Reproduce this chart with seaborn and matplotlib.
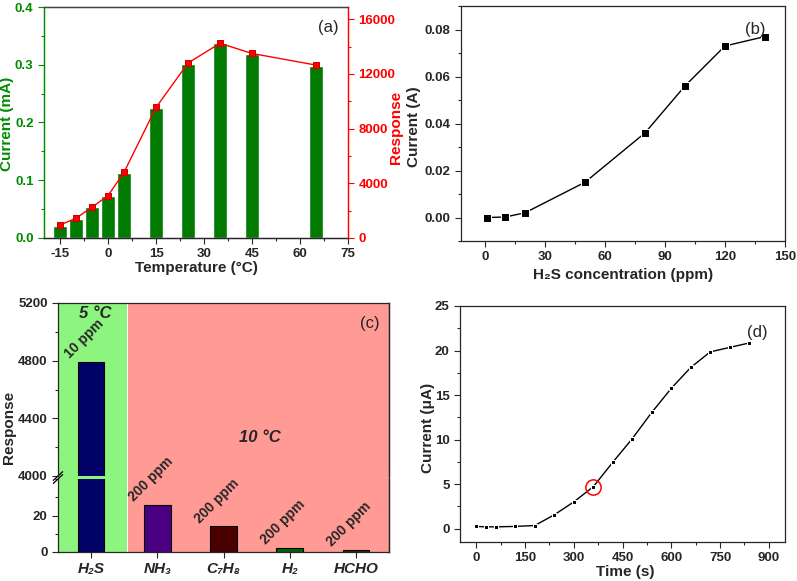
import numpy as np
import pandas as pd
import matplotlib
matplotlib.use('Agg')
import matplotlib.pyplot as plt
from matplotlib.ticker import MultipleLocator, FormatStrFormatter
from matplotlib.transforms import Bbox, TransformedBbox
import seaborn as sns

# ---- data ----
# (a) temperature dependence
temps = [-15, -10, -5, 0, 5, 15, 25, 35, 45, 65]
current_ma = [0.021, 0.033, 0.053, 0.073, 0.113, 0.225, 0.302, 0.337, 0.319, 0.298]
response_a = [950, 1450, 2250, 3100, 4800, 9550, 12800, 14250, 13500, 12650]

# (b) H2S concentration
conc_ppm = [1, 10, 20, 50, 80, 100, 120, 140]
current_a = [0.0, 0.0002, 0.002, 0.015, 0.036, 0.056, 0.073, 0.077]

# (c) selectivity
gases = ['H\u2082S', 'NH\u2083', 'C\u2087H\u2088', 'H\u2082', 'HCHO']
gas_resp = [4790, 26, 14, 2, 1]
gas_conc = ['10 ppm', '200 ppm', '200 ppm', '200 ppm', '200 ppm']
gas_colors = ['#000066', '#4B0082', '#4A0000', '#006400', '#333300']

# (d) response with time
time_s = [0, 30, 60, 120, 180, 240, 300, 360, 420, 480, 540, 600, 660, 720, 780, 840]
current_ua = [0.25, 0.2, 0.2, 0.25, 0.35, 1.55, 3.0, 4.7, 7.45, 10.1, 13.05, 15.75, 18.1, 19.85, 20.35, 20.85]

sns.set_style('ticks')
plt.rcParams['font.family'] = ['Liberation Sans', 'DejaVu Sans']
plt.rcParams['font.weight'] = 'bold'
plt.rcParams['axes.unicode_minus'] = False
plt.rcParams['xtick.direction'] = 'out'
plt.rcParams['ytick.direction'] = 'out'

W, H = 797, 581
fig = plt.figure(figsize=(W / 100, H / 100), dpi=100)

TICK = 9.5
LAB = 11


def box(l, t, r, b):
    return [l / W, 1 - b / H, (r - l) / W, (b - t) / H]


def style_ticks(ax, size=TICK):
    ax.tick_params(which='major', length=4, width=0.8, labelsize=size)
    ax.tick_params(which='minor', length=2, width=0.8)
    for lab in ax.get_xticklabels() + ax.get_yticklabels():
        lab.set_fontweight('bold')
    for s in ax.spines.values():
        s.set_linewidth(0.9)


GREEN = '#008C00'
RED = '#FF0000'

# ---------------- (a) ----------------
ax_a = fig.add_axes(box(44, 7, 348, 238))
sns.barplot(x=temps, y=current_ma, native_scale=True, width=0.85,
            color='#007A00', saturation=1, ax=ax_a)
ax_a.set_xlim(-20, 75)
ax_a.set_ylim(0, 0.4)
ax_a.xaxis.set_major_locator(MultipleLocator(15))
ax_a.xaxis.set_minor_locator(MultipleLocator(7.5))
ax_a.yaxis.set_major_locator(MultipleLocator(0.1))
ax_a.yaxis.set_minor_locator(MultipleLocator(0.05))
ax_a.yaxis.set_major_formatter(FormatStrFormatter('%.1f'))
ax_a.set_xlabel('')
ax_a.set_ylabel('')
ax_a2 = ax_a.twinx()
sns.lineplot(x=temps, y=response_a, color=RED, marker='s', markersize=5,
             markeredgecolor='#CC0000', linewidth=1, ax=ax_a2)
ax_a2.set_ylim(0, 16900)
ax_a2.yaxis.set_major_locator(MultipleLocator(4000))
ax_a2.yaxis.set_minor_locator(MultipleLocator(2000))
ax_a2.set_ylabel('')
style_ticks(ax_a)
style_ticks(ax_a2)
ax_a.tick_params(axis='y', which='both', colors=GREEN)
ax_a2.tick_params(axis='y', which='both', colors=RED)
ax_a2.spines['left'].set_color(GREEN)
ax_a2.spines['right'].set_color(RED)
ax_a2.spines['top'].set_color('#444444')
ax_a.spines['left'].set_color(GREEN)
ax_a.spines['right'].set_color(RED)
ax_a.text(0.934, 0.913, '(a)', transform=ax_a.transAxes, fontsize=12,
          fontweight='normal', ha='center', va='center')
fig.text(7 / W, 1 - 124 / H, 'Current (mA)', rotation=90, color=GREEN,
         fontsize=LAB, fontweight='bold', ha='center', va='center')
resp_lab = fig.text(396 / W, 1 - 127 / H, 'Response', rotation=90, color=RED,
                    fontsize=LAB, fontweight='bold', ha='center', va='center')
# the right-hand label of (a) is partly hidden under panel (b)
resp_lab.set_clip_box(TransformedBbox(Bbox([[0, 0], [403 / W, 1]]), fig.transFigure))
resp_lab.set_clip_on(True)
fig.text(196 / W, 1 - 268 / H, 'Temperature (\u00b0C)', fontsize=LAB,
         fontweight='bold', ha='center', va='center')

# ---------------- (b) ----------------
ax_b = fig.add_axes(box(461, 6, 785, 241))
sns.lineplot(x=conc_ppm, y=current_a, color='black', marker='s', markersize=5.5,
             linewidth=1, ax=ax_b)
ax_b.set_xlim(-12, 150)
ax_b.set_ylim(-0.01, 0.09)
ax_b.xaxis.set_major_locator(MultipleLocator(30))
ax_b.xaxis.set_minor_locator(MultipleLocator(15))
ax_b.yaxis.set_major_locator(MultipleLocator(0.02))
ax_b.yaxis.set_minor_locator(MultipleLocator(0.01))
ax_b.yaxis.set_major_formatter(FormatStrFormatter('%.2f'))
ax_b.set_xlabel('')
ax_b.set_ylabel('')
style_ticks(ax_b)
ax_b.text(0.907, 0.898, '(b)', transform=ax_b.transAxes, fontsize=12,
          fontweight='normal', ha='center', va='center')
fig.text(414 / W, 1 - 127 / H, 'Current (A)', rotation=90,
         fontsize=LAB, fontweight='bold', ha='center', va='center')
fig.text(623 / W, 1 - 275 / H, 'H\u2082S concentration (ppm)', fontsize=LAB,
         fontweight='bold', ha='center', va='center')

# ---------------- (c) ----------------
gas_df = pd.DataFrame({'gas': gases, 'resp': gas_resp})
ax_bg = fig.add_axes(box(58, 303, 389, 552))
ax_bg.set_xlim(-0.5, 4.5)
ax_bg.axvspan(-0.5, 0.535, color='#8DF57F', lw=0)
ax_bg.axvspan(0.56, 4.5, color='#FF9A94', lw=0)
ax_bg.set_xticks([])
ax_bg.set_yticks([])
for side in ('left', 'top', 'bottom'):
    ax_bg.spines[side].set_visible(False)
ax_bg.spines['right'].set_linewidth(0.9)

ax_cu = fig.add_axes(box(58, 303, 389, 476))
ax_cl = fig.add_axes(box(58, 479, 389, 552))
for ax in (ax_cu, ax_cl):
    ax.set_facecolor('none')
    sns.barplot(data=gas_df, x='gas', y='resp', hue='gas', palette=gas_colors,
                width=0.4, saturation=1, edgecolor='black', linewidth=0.8,
                legend=False, ax=ax)
    ax.set_xlim(-0.5, 4.5)
    ax.set_xlabel('')
    ax.set_ylabel('')
ax_cu.set_ylim(4000, 5200)
ax_cu.yaxis.set_major_locator(MultipleLocator(400))
ax_cu.yaxis.set_minor_locator(MultipleLocator(200))
ax_cu.spines['bottom'].set_visible(False)
ax_cu.tick_params(axis='x', which='both', bottom=False, labelbottom=False)
ax_cl.set_ylim(0, 40)
ax_cl.yaxis.set_minor_locator(MultipleLocator(10))
ax_cl.set_yticks([0, 20])
ax_cl.spines['top'].set_visible(False)
style_ticks(ax_cu)
style_ticks(ax_cl)
ax_cl.tick_params(axis='x', labelsize=11)
for lab in ax_cl.get_xticklabels():
    lab.set_fontstyle('italic')
    lab.set_fontweight('bold')

# break marks on the left spine
ax_cu.plot([-0.014, 0.014], [-0.025, 0.025], transform=ax_cu.transAxes,
           color='black', lw=0.9, clip_on=False)
ax_cl.plot([-0.014, 0.014], [0.94, 1.06], transform=ax_cl.transAxes,
           color='black', lw=0.9, clip_on=False)

for i, (v, c) in enumerate(zip(gas_resp, gas_conc)):
    target = ax_cu if v > 40 else ax_cl
    target.text(i - 0.1, v + (10 if v > 40 else 0.5), c, rotation=45,
                ha='center', va='bottom', fontsize=10, fontweight='bold')
ax_cu.text(0.06, 5125, '5 \u00b0C', ha='center', va='center', fontsize=12,
           fontweight='bold', fontstyle='italic')
ax_cu.text(2.55, 4270, '10 \u00b0C', ha='center', va='center', fontsize=12,
           fontweight='bold', fontstyle='italic')
ax_cu.text(0.943, 0.884, '(c)', transform=ax_cu.transAxes, fontsize=12,
           fontweight='normal', ha='center', va='center')
fig.text(9 / W, 1 - 427 / H, 'Response', rotation=90,
         fontsize=LAB, fontweight='bold', ha='center', va='center')

# ---------------- (d) ----------------
ax_d = fig.add_axes(box(460, 306, 785, 542))
sns.lineplot(x=time_s, y=current_ua, color='black', marker='s', markersize=3.5,
             linewidth=1, ax=ax_d)
ax_d.plot(time_s[7], current_ua[7], marker='o', markersize=11, mfc='none',
          mec='red', mew=1.1, linestyle='none')
ax_d.set_xlim(-50, 950)
ax_d.set_ylim(-1.5, 25)
ax_d.xaxis.set_major_locator(MultipleLocator(150))
ax_d.xaxis.set_minor_locator(MultipleLocator(75))
ax_d.yaxis.set_major_locator(MultipleLocator(5))
ax_d.yaxis.set_minor_locator(MultipleLocator(2.5))
ax_d.set_xlabel('')
ax_d.set_ylabel('')
style_ticks(ax_d)
ax_d.text(0.914, 0.886, '(d)', transform=ax_d.transAxes, fontsize=12,
          fontweight='normal', ha='center', va='center')
fig.text(428 / W, 1 - 428 / H, 'Current (\u03bcA)', rotation=90,
         fontsize=LAB, fontweight='bold', ha='center', va='center')
fig.text(625 / W, 1 - 572 / H, 'Time (s)', fontsize=LAB,
         fontweight='bold', ha='center', va='center')

fig.savefig('out.png', dpi=100)
